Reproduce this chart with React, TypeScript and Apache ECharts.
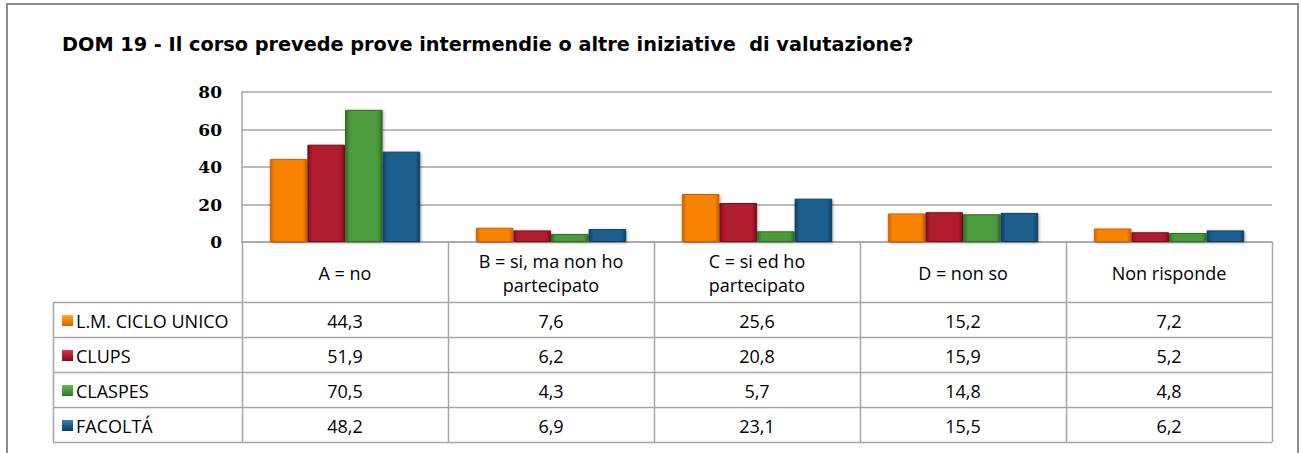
import React, { useEffect, useRef } from "react";
import * as echarts from "echarts";

const titleText = "DOM 19 - Il corso prevede prove intermendie o altre iniziative  di valutazione?";
const categories = ["A = no", "B = si, ma non ho\npartecipato", "C = si ed ho\npartecipato", "D = non so", "Non risponde"];
const seriesNames = ["L.M. CICLO UNICO", "CLUPS", "CLASPES", "FACOLTÁ"];
const lmCicloUnico = [44.3, 7.6, 25.6, 15.2, 7.2];
const clups = [51.9, 6.2, 20.8, 15.9, 5.2];
const claspes = [70.5, 4.3, 5.7, 14.8, 4.8];
const facolta = [48.2, 6.9, 23.1, 15.5, 6.2];
const yTicks = { min: 0, max: 80, interval: 20 };

const palette = [
  { base: "#F98300", light: "#FFA63A", dark: "#C86400" },
  { base: "#B01A2E", light: "#D23A4E", dark: "#7E0E1E" },
  { base: "#4C9A3C", light: "#6DBA5A", dark: "#336E27" },
  { base: "#1C5F8E", light: "#3A82B4", dark: "#103F60" },
];

const W = 1302;
const H = 453;
const GL = 242;
const GR = 1272;
const GT = 92;
const G0 = 242;
const HEAD_B = 302;
const ROW_H = 35;
const LEG_L = 53;
const FONT = "'Open Sans', sans-serif";
const LINE = "#A6A6A6";

const fmt = (v: number) => v.toFixed(1).replace(".", ",");

export default function App() {
  const ref = useRef<HTMLDivElement>(null);
  useEffect(() => {
    document.body.style.margin = "0";
    const chart = echarts.init(ref.current!, undefined, { renderer: "svg" });
    const allSeries = [lmCicloUnico, clups, claspes, facolta];
    const catW = (GR - GL) / categories.length;
    const graphics: any[] = [];

    graphics.push({
      type: "rect",
      shape: { x: 7, y: 4, width: 1291, height: 470 },
      style: { fill: "none", stroke: "#8C8C8C", lineWidth: 2 },
      z: 1,
    });
    graphics.push({
      type: "text",
      x: 62,
      y: 44,
      style: { text: titleText, font: `bold 19.3px 'DejaVu Sans', sans-serif`, fill: "#000", textVerticalAlign: "middle" },
    });

    const nRows = seriesNames.length;
    const tableBottom = HEAD_B + nRows * ROW_H;
    for (let i = 0; i <= categories.length; i++) {
      const x = Math.round(GL + i * catW) + 0.5;
      graphics.push({ type: "line", shape: { x1: x, y1: G0, x2: x, y2: tableBottom }, style: { stroke: LINE, lineWidth: 1.5 } });
    }
    graphics.push({ type: "line", shape: { x1: LEG_L + 0.5, y1: HEAD_B, x2: LEG_L + 0.5, y2: tableBottom }, style: { stroke: LINE, lineWidth: 1.5 } });
    for (let r = 0; r <= nRows; r++) {
      const y = HEAD_B + r * ROW_H + 0.5;
      graphics.push({ type: "line", shape: { x1: LEG_L, y1: y, x2: GR, y2: y }, style: { stroke: LINE, lineWidth: 1.5 } });
    }
    categories.forEach((c, i) => {
      graphics.push({
        type: "text",
        x: GL + (i + 0.5) * catW,
        y: (G0 + HEAD_B) / 2 + 1,
        style: { text: c, font: `18px ${FONT}`, fill: "#000", align: "center", verticalAlign: "middle", lineHeight: 24 },
      });
    });
    seriesNames.forEach((name, r) => {
      const cy = HEAD_B + (r + 0.5) * ROW_H + 1;
      const p = palette[r];
      graphics.push({
        type: "rect",
        shape: { x: 62, y: cy - 5.5, width: 11, height: 11 },
        style: {
          fill: new echarts.graphic.LinearGradient(0, 0, 0, 1, [
            { offset: 0, color: p.light },
            { offset: 0.5, color: p.base },
            { offset: 1, color: p.dark },
          ]),
        },
      });
      graphics.push({
        type: "text",
        x: 76,
        y: cy,
        style: { text: name, font: `18px ${FONT}`, fill: "#000", verticalAlign: "middle" },
      });
      allSeries[r].forEach((v, i) => {
        graphics.push({
          type: "text",
          x: GL + (i + 0.5) * catW,
          y: cy,
          style: { text: fmt(v), font: `18px ${FONT}`, fill: "#000", align: "center", verticalAlign: "middle" },
        });
      });
    });

    chart.setOption({
      animation: false,
      backgroundColor: "#fff",
      grid: { left: GL, right: W - GR, top: GT, bottom: H - G0 },
      xAxis: {
        type: "category",
        data: categories,
        axisLine: { show: true, lineStyle: { color: LINE, width: 1.5 } },
        axisTick: { show: false },
        axisLabel: { show: false },
      },
      yAxis: {
        type: "value",
        min: yTicks.min,
        max: yTicks.max,
        interval: yTicks.interval,
        axisLine: { show: true, lineStyle: { color: LINE, width: 1.5 } },
        axisTick: { show: false },
        axisLabel: { margin: 20, fontFamily: "'DejaVu Serif', serif", fontWeight: "bold", fontSize: 17, color: "#000" },
        splitLine: { lineStyle: { color: LINE, width: 1.5 } },
      },
      series: allSeries.map((data, r) => ({
        type: "bar",
        name: seriesNames[r],
        data,
        barGap: "0%",
        barCategoryGap: "27%",
        itemStyle: {
          color: new echarts.graphic.LinearGradient(0, 0, 1, 0, [
            { offset: 0, color: palette[r].dark },
            { offset: 0.12, color: palette[r].base },
            { offset: 0.88, color: palette[r].base },
            { offset: 1, color: palette[r].dark },
          ]),
          borderColor: palette[r].dark,
          borderWidth: 1,
          shadowColor: "rgba(0,0,0,0.35)",
          shadowBlur: 3,
          shadowOffsetX: 1,
          shadowOffsetY: 1,
        },
      })),
      graphic: graphics,
    });
    return () => chart.dispose();
  }, []);
  return <div ref={ref} style={{ width: W, height: H }} />;
}
